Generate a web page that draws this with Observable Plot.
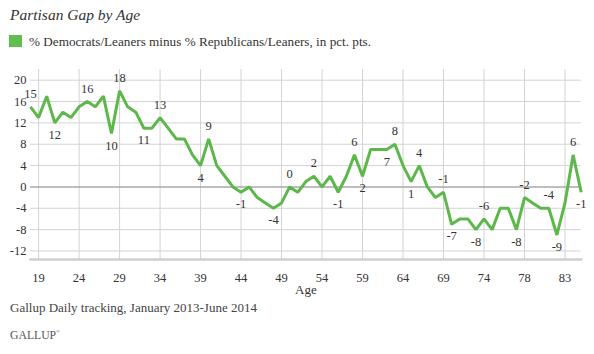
<!DOCTYPE html>
<html><head><meta charset="utf-8">
<script src="https://cdn.jsdelivr.net/npm/d3@7"></script>
<script src="https://cdn.jsdelivr.net/npm/@observablehq/plot@0.6"></script>
<style>
body{margin:0;background:#fff;}
#wrap{position:relative;width:594px;height:354px;font-family:"Liberation Serif",serif;color:#333;overflow:hidden;}
#wrap div{line-height:1;white-space:nowrap;}
#title{position:absolute;left:10px;top:7px;font-size:15.5px;font-style:italic;color:#333;}
#legend{position:absolute;left:9px;top:35px;font-size:13.2px;}
#legend .sw{position:absolute;left:0;top:0;width:13px;height:12px;background:#62bd4f;}
#legend .lt{position:absolute;left:20px;top:0;}
#chart{position:absolute;left:0;top:60px;}
#chart svg text{font-family:"Liberation Serif",serif;}
#caption{position:absolute;left:10px;top:300.7px;font-size:13px;color:#444;}
#logo{position:absolute;left:10px;top:328.5px;font-size:11.7px;color:#555;}
#logo sup{font-size:5px;vertical-align:6px;}
</style></head>
<body>
<div id="wrap">
  <div id="title">Partisan Gap by Age</div>
  <div id="legend"><span class="sw"></span><span class="lt">% Democrats/Leaners minus % Republicans/Leaners, in pct. pts.</span></div>
  <div id="chart"></div>
  <div id="caption">Gallup Daily tracking, January 2013-June 2014</div>
  <div id="logo">GALLUP<sup>®</sup></div>
</div>
<script>
// Partisan gap (pct. pts.) by age category, in order
const values = [15,13,17,12,14,13,15,16,15,17,10,18,15,14,11,11,13,11,9,9,
  6,4,9,4,2,0,-1,0,-2,-3,-4,-3,0,-1,1,2,0,2,-1,2,
  6,2,7,7,7,8,4,1,4,0,-2,-1,-7,-6,-6,-8,-6,-8,-4,-4,
  -8,-2,-3,-4,-4,-9,-3,6,-1];
// category positions that carry an x tick label, and the labels themselves
const tickIdx = [1,6,11,16,21,26,31,36,41,46,51,56,61,66];
const tickLabels = ["19","24","29","34","39","44","49","54","59","64","69","74","78","83"];
const yTicks = [-12,-8,-4,0,4,8,12,16,20];
// which points are annotated with their value (above or below the line)
const labelsAbove = [0,7,11,16,22,32,35,40,45,48,51,56,61,64,67];
const labelsBelow = [3,10,14,21,26,30,38,41,44,47,52,55,60,65,68];

const data = values.map((v, i) => ({i, v}));
const green = "#5cb84a";
const grid = "#d3d3d3";
const serif = "'Liberation Serif', serif";

const chart = Plot.plot({
  width: 594,
  height: 240,
  marginLeft: 30,
  marginRight: 13.3,
  marginTop: 9,
  marginBottom: 41,
  x: {domain: [0, values.length - 1]},
  y: {domain: [-13.6, 22]},
  style: {fontFamily: serif, fontSize: "12.5px", color: "#333", background: "transparent"},
  marks: [
    Plot.ruleY(yTicks.filter(d => d !== 0), {stroke: grid, strokeWidth: 1}),
    Plot.ruleX(tickIdx, {stroke: grid, strokeWidth: 1}),
    Plot.ruleY([0], {stroke: "#a9a9a9", strokeWidth: 1.5}),
    Plot.frame({anchor: "bottom", stroke: "#cfcfcf", strokeWidth: 2.5}),
    Plot.axisY({ticks: yTicks, tickSize: 0, tickPadding: 4, tickFormat: d => String(d), label: null, fill: "#333", fontFamily: serif}),
    Plot.axisX({ticks: tickIdx, tickSize: 0, tickPadding: 13.5, tickFormat: d => tickLabels[tickIdx.indexOf(d)], label: null, fill: "#333", fontFamily: serif}),
    Plot.text(["Age"], {frameAnchor: "bottom", dy: 34, text: d => d, fontSize: 13, fill: "#333", fontFamily: serif}),
    Plot.line(data, {x: "i", y: "v", stroke: green, strokeWidth: 3, strokeLinejoin: "miter", strokeLinecap: "butt"}),
    Plot.text(data.filter(d => labelsAbove.includes(d.i)), {x: "i", y: "v", text: d => String(d.v), dy: -13, fill: "#333", fontFamily: serif}),
    Plot.text(data.filter(d => labelsBelow.includes(d.i)), {x: "i", y: "v", text: d => String(d.v), dy: 12, fill: "#333", fontFamily: serif})
  ]
});
document.getElementById("chart").appendChild(chart);
</script>
</body></html>
